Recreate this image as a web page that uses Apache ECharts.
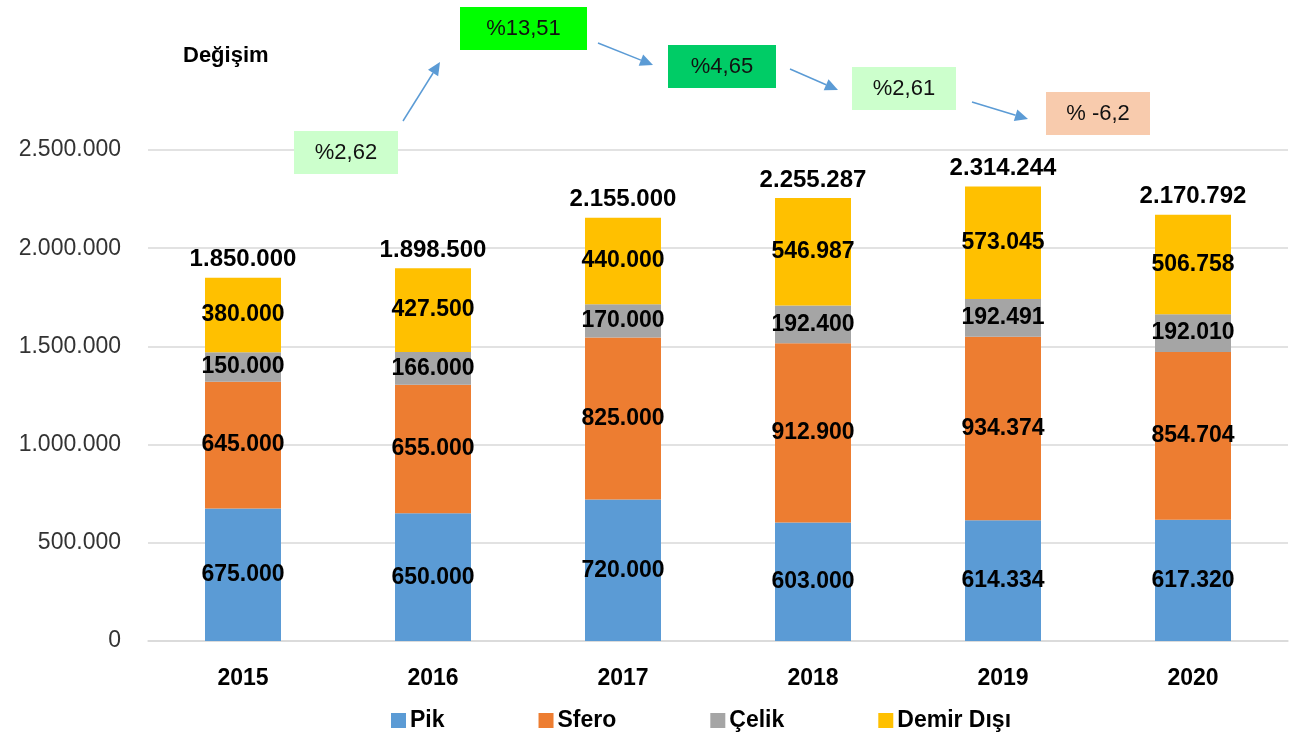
<!DOCTYPE html>
<html>
<head>
<meta charset="utf-8">
<script src="https://cdn.jsdelivr.net/npm/echarts@6/dist/echarts.min.js"></script>
<style>
  html, body { margin: 0; padding: 0; background: #fff; }
  #chart { width: 1295px; height: 733px; }
</style>
</head>
<body>
<div id="chart"></div>
<script>
var years = ['2015', '2016', '2017', '2018', '2019', '2020'];
var pik = [675000, 650000, 720000, 603000, 614334, 617320];
var sfero = [645000, 655000, 825000, 912900, 934374, 854704];
var celik = [150000, 166000, 170000, 192400, 192491, 192010];
var demirDisi = [380000, 427500, 440000, 546987, 573045, 506758];
var totals = [1850000, 1898500, 2155000, 2255287, 2314244, 2170792];
var changes = ['%2,62', '%13,51', '%4,65', '%2,61', '% -6,2'];

var font = '"Liberation Sans", Arial, sans-serif';

function fmt(v) {
  return String(Math.round(v)).replace(/\B(?=(\d{3})+(?!\d))/g, '.');
}

function stackSeries(name, data, color) {
  return {
    name: name,
    type: 'bar',
    stack: 'total',
    data: data,
    barWidth: 76,
    itemStyle: { color: color },
    label: {
      show: true,
      position: 'inside',
      color: '#000',
      fontSize: 23,
      fontWeight: 'bold',
      fontFamily: font,
      formatter: function(p) { return fmt(p.value); }
    }
  };
}

// boxes for the yearly change notes (pixel layout)
var boxes = [
  { x: 294, y: 131, w: 104, h: 43, fill: '#ccffcc' },
  { x: 460, y: 7, w: 127, h: 43, fill: '#00ff00' },
  { x: 668, y: 45, w: 108, h: 43, fill: '#00cc66' },
  { x: 852, y: 67, w: 104, h: 43, fill: '#ccffcc' },
  { x: 1046, y: 92, w: 104, h: 43, fill: '#f8cbad' }
];
var arrows = [
  [403, 121, 440, 62],
  [598, 43, 653, 65],
  [790, 69, 838, 90],
  [972, 102, 1028, 119]
];

var graphics = [{
  type: 'text', left: 183, top: 45, z: 100,
  style: { text: 'Değişim', fill: '#000', font: 'bold 22px ' + font }
}];
boxes.forEach(function(b, i) {
  graphics.push({
    type: 'rect', z: 100, shape: { x: b.x, y: b.y, width: b.w, height: b.h },
    style: { fill: b.fill }
  });
  graphics.push({
    type: 'text', z: 101, x: b.x + b.w / 2, y: b.y + b.h / 2,
    style: { text: changes[i], fill: '#111', font: '22px ' + font, textAlign: 'center', textVerticalAlign: 'middle' }
  });
});
arrows.forEach(function(a) {
  var dx = a[2] - a[0], dy = a[3] - a[1];
  var len = Math.sqrt(dx * dx + dy * dy);
  var ux = dx / len, uy = dy / len;
  var hl = 13, hw = 6;
  var bx = a[2] - ux * hl, by = a[3] - uy * hl;
  graphics.push({
    type: 'line', z: 100, shape: { x1: a[0], y1: a[1], x2: bx, y2: by },
    style: { stroke: '#5b9bd5', lineWidth: 1.5 }
  });
  graphics.push({
    type: 'polygon', z: 100,
    shape: { points: [[a[2], a[3]], [bx - uy * hw, by + ux * hw], [bx + uy * hw, by - ux * hw]] },
    style: { fill: '#5b9bd5' }
  });
});

var chart = echarts.init(document.getElementById('chart'));
chart.setOption({
  animation: false,
  grid: { left: 148, right: 7, top: 150, bottom: 92 },
  legend: {
    data: ['Pik', 'Sfero', 'Çelik', 'Demir Dışı'],
    top: 704,
    left: 386,
    itemWidth: 15,
    itemHeight: 15,
    itemGap: 94,
    icon: 'rect',
    textStyle: { color: '#000', fontSize: 23, fontWeight: 'bold', fontFamily: font, padding: [0, 0, 0, -1] }
  },
  xAxis: {
    type: 'category',
    data: years,
    axisLine: { lineStyle: { color: '#d9d9d9', width: 1.5 } },
    axisTick: { show: false },
    axisLabel: { color: '#000', fontSize: 23, fontWeight: 'bold', fontFamily: font, margin: 26 }
  },
  yAxis: {
    type: 'value',
    min: 0,
    max: 2500000,
    interval: 500000,
    axisLine: { show: false },
    axisTick: { show: false },
    splitLine: { lineStyle: { color: '#d9d9d9', width: 1.5 } },
    axisLabel: { color: '#333', fontSize: 23, fontFamily: font, margin: 27, formatter: fmt }
  },
  series: [
    stackSeries('Pik', pik, '#5b9bd5'),
    stackSeries('Sfero', sfero, '#ed7d31'),
    stackSeries('Çelik', celik, '#a5a5a5'),
    stackSeries('Demir Dışı', demirDisi, '#ffc000'),
    {
      name: 'Toplam',
      type: 'scatter',
      data: totals,
      symbolSize: 0,
      silent: true,
      itemStyle: { opacity: 1 },
      label: {
        show: true,
        position: 'top',
        distance: 6,
        color: '#000',
        fontSize: 24,
        fontWeight: 'bold',
        fontFamily: font,
        formatter: function(p) { return fmt(p.value); }
      }
    }
  ],
  graphic: graphics
});
</script>
</body>
</html>
